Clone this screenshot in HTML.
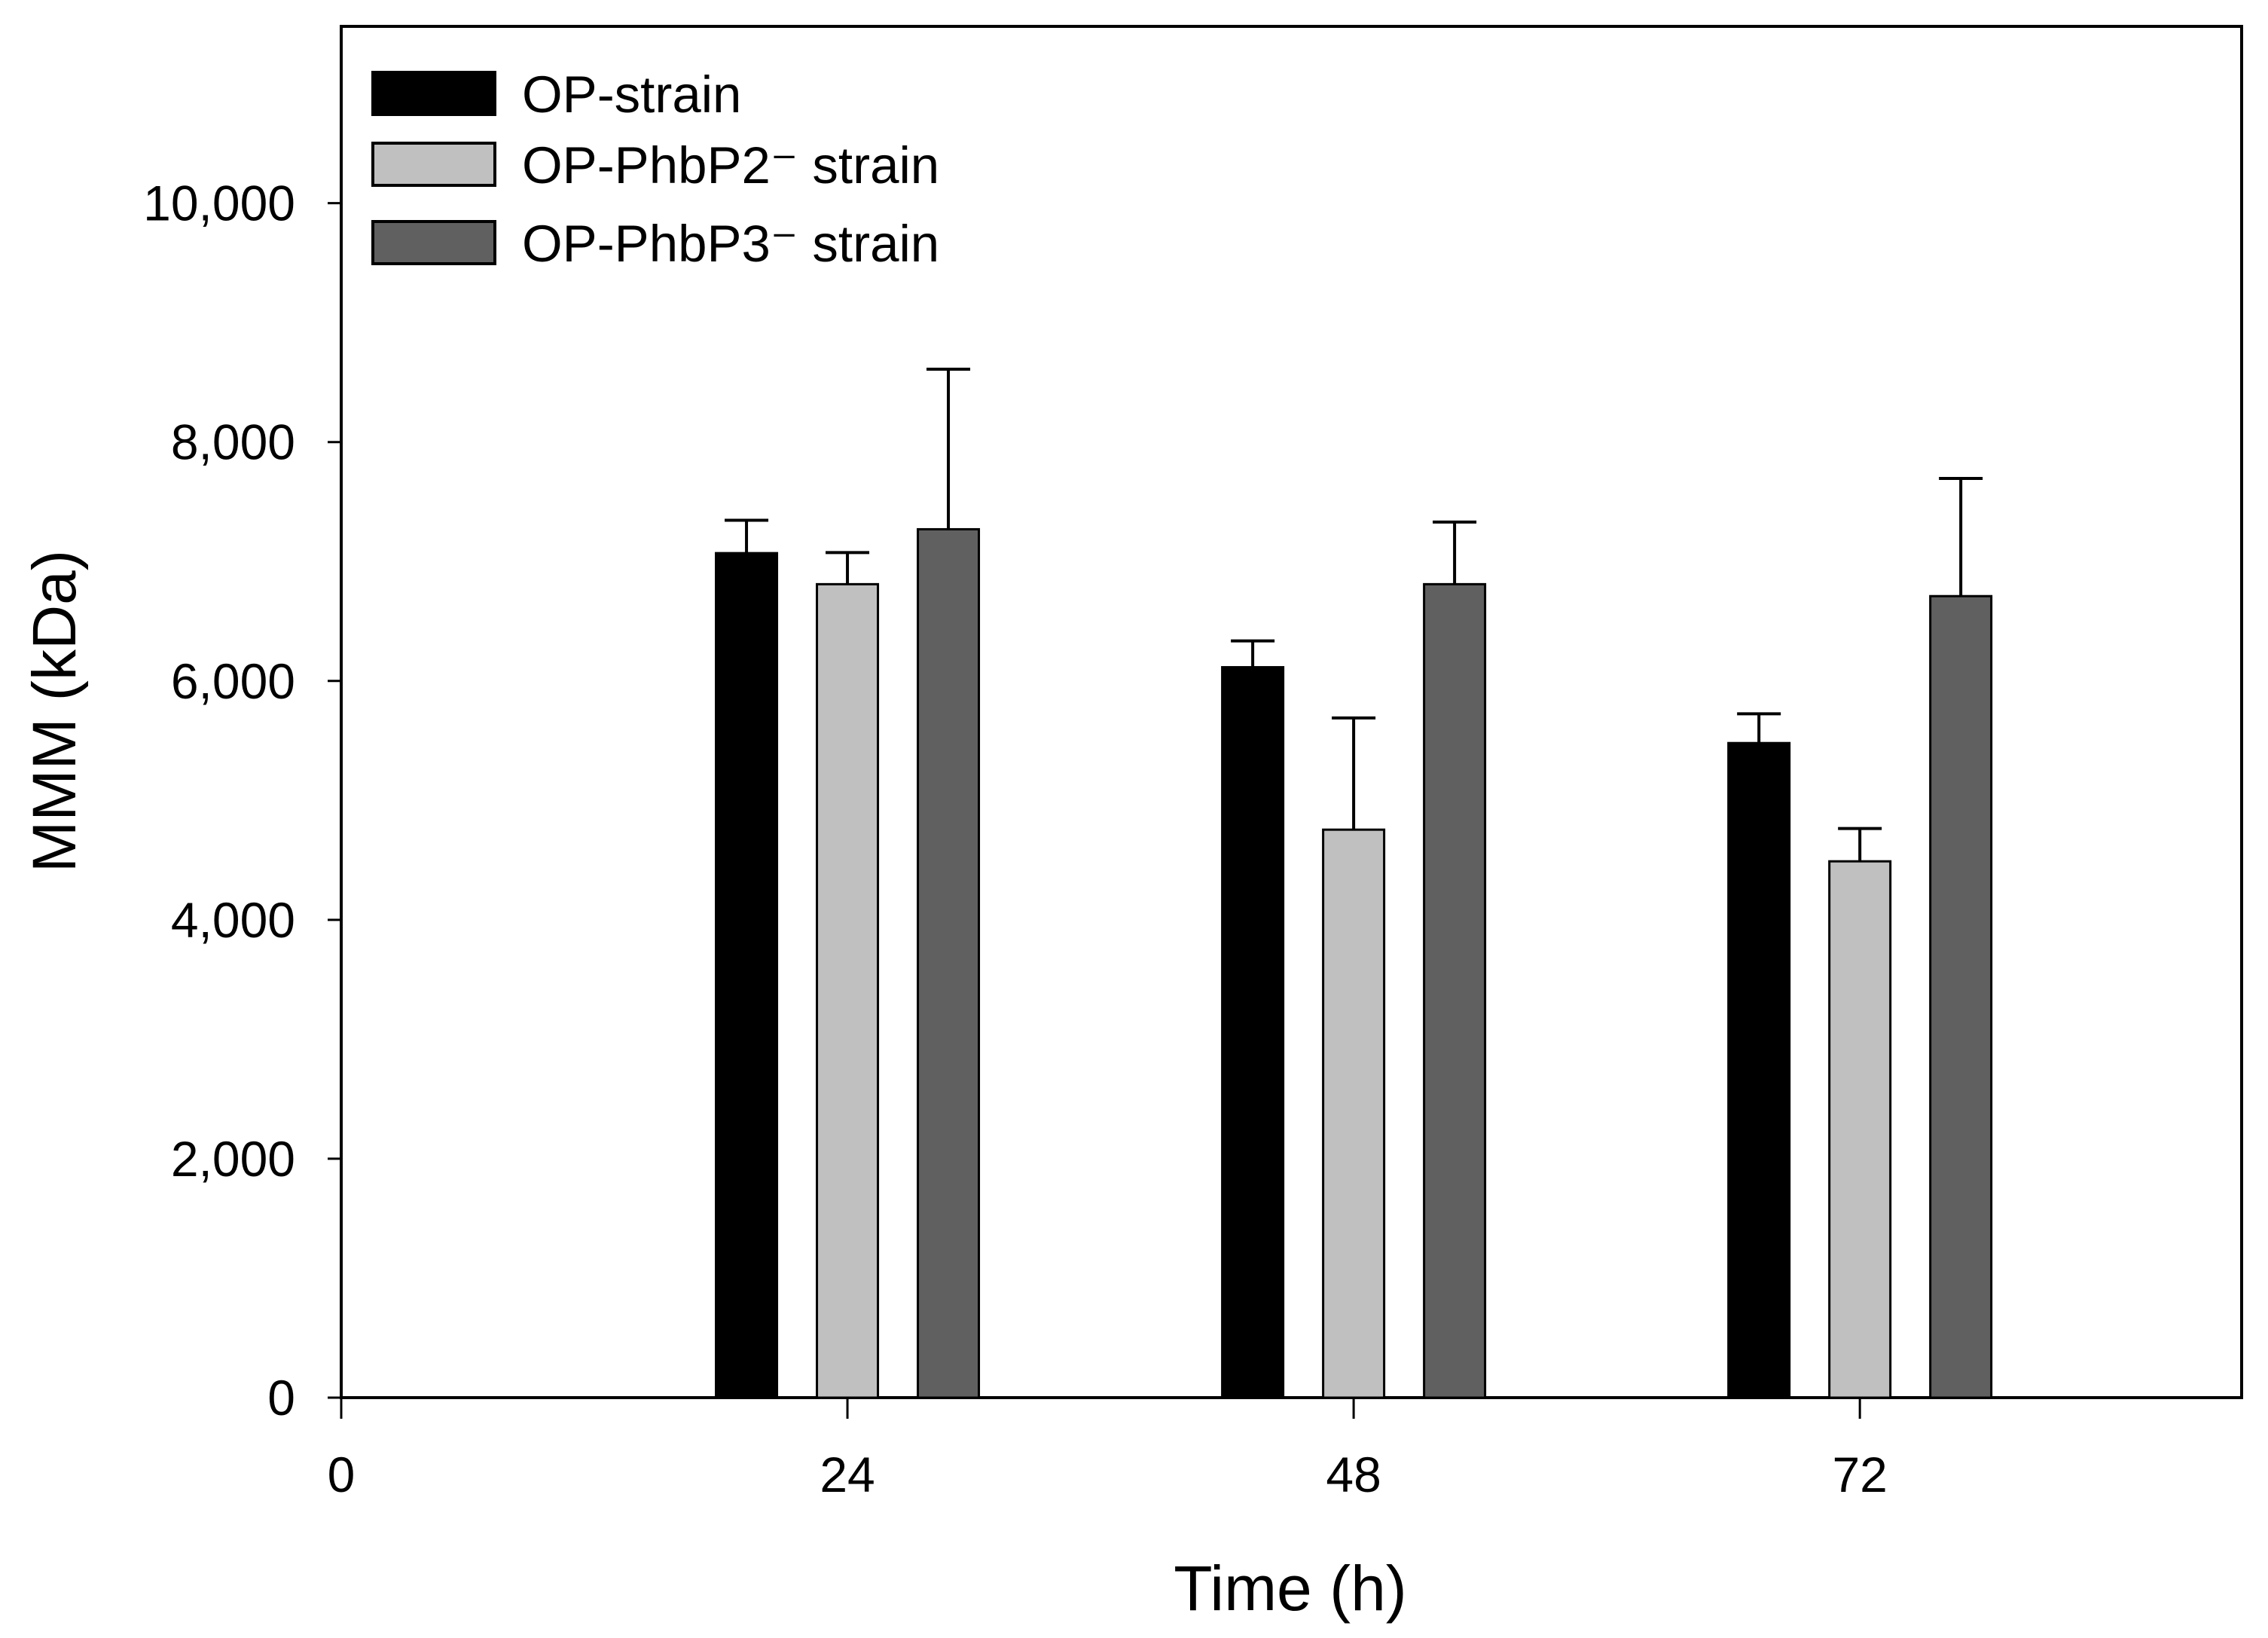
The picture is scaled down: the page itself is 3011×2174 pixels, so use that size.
<!DOCTYPE html>
<html><head><meta charset="utf-8"><style>
html,body{margin:0;padding:0;background:#fff;}
svg{display:block;font-family:"Liberation Sans",Arial,sans-serif;}
</style></head><body>
<svg id="chart" width="3011" height="2174" viewBox="0 0 3011 2174">
<g id="plot"></g>
</svg>
<script>
const categories = [24, 48, 72];
const seriesNames = ["OP-strain", "OP-PhbP2\u207B strain", "OP-PhbP3\u207B strain"];
const opStrain = [7070, 6115, 5480];
const opStrainErr = [275, 220, 245];
const phbP2 = [6810, 4755, 4490];
const phbP2Err = [265, 935, 275];
const phbP3 = [7270, 6810, 6710];
const phbP3Err = [1340, 520, 985];
const yTicks = [0, 2000, 4000, 6000, 8000, 10000];
const yTickLabels = ["0", "2,000", "4,000", "6,000", "8,000", "10,000"];
const xTicks = [0, 24, 48, 72];

const NS = "http://www.w3.org/2000/svg";
const L = 453, R = 2976, T = 35, B = 1855;
const xMin = 0, xMax = 90.1, yMin = 0, yMax = 11480;
const xs = v => L + (v - xMin) / (xMax - xMin) * (R - L);
const ys = v => B - (v - yMin) / (yMax - yMin) * (B - T);
const colors = ["#000000", "#c0c0c0", "#606060"];
const series = [opStrain, phbP2, phbP3];
const errs = [opStrainErr, phbP2Err, phbP3Err];
const barW = 81, offset = 134;
const g = document.getElementById("plot");
function mk(tag, attrs, parent) {
  const e = document.createElementNS(NS, tag);
  for (const k in attrs) e.setAttribute(k, attrs[k]);
  (parent || g).appendChild(e);
  return e;
}

const frame = mk("rect", {x: L, y: T, width: R - L, height: B - T, fill: "none", stroke: "#000", "stroke-width": 4});



series.forEach((vals, si) => {
  vals.forEach((v, ci) => {
    const cx = xs(categories[ci]) + (si - 1) * offset;
    const top = ys(v + errs[si][ci]);
    const el = mk("line", {x1: cx, x2: cx, y1: ys(v), y2: top, stroke: "#000", "stroke-width": 4});
    
    
    const cap = mk("line", {x1: cx - 29, x2: cx + 29, y1: top, y2: top, stroke: "#000", "stroke-width": 4});
    
    
    const r = mk("rect", {x: cx - barW / 2, y: ys(v), width: barW, height: ys(0) - ys(v), fill: colors[si], stroke: "#000", "stroke-width": 3});
    
    
  });
});

yTicks.forEach((v, i) => {
  const t = mk("line", {x1: L - 18, x2: L, y1: ys(v), y2: ys(v), stroke: "#000", "stroke-width": 3});
  
  
  const tx = mk("text", {x: 392, y: ys(v) + 23, "text-anchor": "end", "font-size": 66});
  tx.textContent = yTickLabels[i];
  
  
});
xTicks.forEach(v => {
  const t = mk("line", {x1: xs(v), x2: xs(v), y1: B, y2: B + 28, stroke: "#000", "stroke-width": 3});
  
  
  const tx = mk("text", {x: xs(v), y: 1980, "text-anchor": "middle", "font-size": 66});
  tx.textContent = String(v);
  
  
});

const xt = mk("text", {x: 1713, y: 2137, "text-anchor": "middle", "font-size": 84});
xt.textContent = "Time (h)";


const yt = mk("text", {x: 0, y: 0, "text-anchor": "middle", "font-size": 82, transform: "translate(100,944) rotate(-90)"});
yt.textContent = "MMM (kDa)";



const legendY = [96, 190, 294];
seriesNames.forEach((n, i) => {
  const sw = mk("rect", {x: 495, y: legendY[i], width: 162, height: 56, fill: colors[i], stroke: "#000", "stroke-width": 4});
  
  
  const tx = mk("text", {x: 693, y: legendY[i] + 53, "font-size": 69});
  tx.textContent = n;
  
  
});
</script>
</body></html>
